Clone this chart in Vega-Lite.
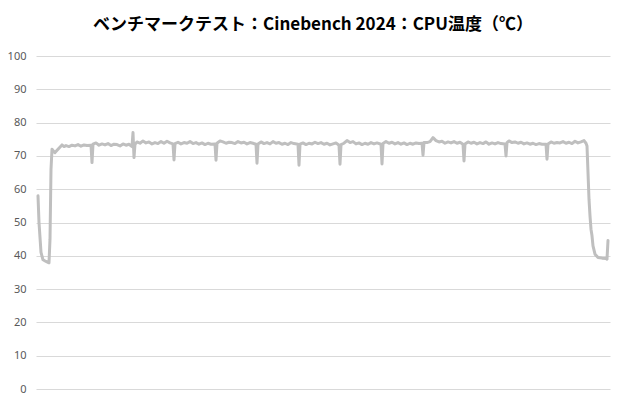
{
  "$schema": "https://vega.github.io/schema/vega-lite/v6.json",
  "autosize": "none",
  "width": 574,
  "height": 333,
  "padding": {"left": 36, "top": 56, "right": 10, "bottom": 11},
  "background": "white",
  "title": {
    "text": "ベンチマークテスト：Cinebench 2024：CPU温度（℃）",
    "font": "Noto Sans CJK JP",
    "fontSize": 17,
    "fontWeight": "bold",
    "color": "#000000",
    "anchor": "middle",
    "frame": "group",
    "offset": 16,
    "dx": -10
  },
  "config": {"view": {"stroke": null}},
  "data": {
    "values": [
      {"s": 2, "temp": 58}, {"s": 3, "temp": 50}, {"s": 5, "temp": 41}, {"s": 7, "temp": 38.8},
      {"s": 10, "temp": 38.3}, {"s": 13, "temp": 37.9}, {"s": 14, "temp": 45}, {"s": 15, "temp": 66},
      {"s": 16, "temp": 72}, {"s": 17, "temp": 71.6}, {"s": 19, "temp": 71.0}, {"s": 22, "temp": 72.0},
      {"s": 26, "temp": 73.3}, {"s": 28, "temp": 72.8}, {"s": 30, "temp": 73.1}, {"s": 33, "temp": 72.8},
      {"s": 36, "temp": 73.2}, {"s": 39, "temp": 73.0}, {"s": 42, "temp": 73.4}, {"s": 45, "temp": 72.9},
      {"s": 48, "temp": 73.3}, {"s": 51, "temp": 73.1}, {"s": 55, "temp": 73.2}, {"s": 56, "temp": 68},
      {"s": 57, "temp": 73.5}, {"s": 60, "temp": 73.9}, {"s": 63, "temp": 73.2}, {"s": 66, "temp": 73.6},
      {"s": 69, "temp": 73.3}, {"s": 72, "temp": 73.7}, {"s": 75, "temp": 73.1}, {"s": 78, "temp": 73.5},
      {"s": 81, "temp": 73.4}, {"s": 84, "temp": 73.0}, {"s": 87, "temp": 73.6}, {"s": 90, "temp": 73.2},
      {"s": 93, "temp": 73.5}, {"s": 96, "temp": 72.8}, {"s": 97, "temp": 77.0}, {"s": 98, "temp": 69.5},
      {"s": 99, "temp": 73.5}, {"s": 101, "temp": 74.2}, {"s": 104, "temp": 73.8}, {"s": 107, "temp": 74.5},
      {"s": 110, "temp": 73.9}, {"s": 113, "temp": 74.2}, {"s": 116, "temp": 73.6}, {"s": 119, "temp": 74.0},
      {"s": 122, "temp": 73.7}, {"s": 125, "temp": 74.3}, {"s": 128, "temp": 73.8}, {"s": 131, "temp": 74.4},
      {"s": 134, "temp": 73.9}, {"s": 137, "temp": 73.6}, {"s": 138, "temp": 68.8}, {"s": 139, "temp": 73.7},
      {"s": 142, "temp": 74.1}, {"s": 145, "temp": 73.6}, {"s": 148, "temp": 74.0}, {"s": 151, "temp": 73.8},
      {"s": 154, "temp": 74.3}, {"s": 157, "temp": 73.7}, {"s": 160, "temp": 74.0}, {"s": 163, "temp": 73.5},
      {"s": 166, "temp": 73.9}, {"s": 169, "temp": 73.4}, {"s": 172, "temp": 73.8}, {"s": 175, "temp": 73.5},
      {"s": 179, "temp": 73.6}, {"s": 180, "temp": 68.7}, {"s": 181, "temp": 73.8}, {"s": 184, "temp": 74.5},
      {"s": 187, "temp": 74.2}, {"s": 190, "temp": 73.8}, {"s": 193, "temp": 74.1}, {"s": 196, "temp": 74.0},
      {"s": 199, "temp": 73.7}, {"s": 202, "temp": 74.3}, {"s": 205, "temp": 73.9}, {"s": 208, "temp": 74.1},
      {"s": 211, "temp": 73.6}, {"s": 214, "temp": 74.0}, {"s": 217, "temp": 73.8}, {"s": 220, "temp": 73.5},
      {"s": 221, "temp": 67.8}, {"s": 222, "temp": 73.6}, {"s": 225, "temp": 74.2}, {"s": 228, "temp": 73.7},
      {"s": 231, "temp": 74.0}, {"s": 234, "temp": 73.6}, {"s": 237, "temp": 74.3}, {"s": 240, "temp": 73.8},
      {"s": 243, "temp": 74.0}, {"s": 246, "temp": 73.5}, {"s": 249, "temp": 73.8}, {"s": 252, "temp": 73.4},
      {"s": 255, "temp": 74.0}, {"s": 258, "temp": 73.7}, {"s": 262, "temp": 73.5}, {"s": 263, "temp": 67.2},
      {"s": 264, "temp": 73.5}, {"s": 267, "temp": 73.9}, {"s": 270, "temp": 73.4}, {"s": 273, "temp": 73.8},
      {"s": 276, "temp": 73.6}, {"s": 279, "temp": 74.1}, {"s": 282, "temp": 73.7}, {"s": 285, "temp": 74.0},
      {"s": 288, "temp": 73.5}, {"s": 291, "temp": 73.8}, {"s": 294, "temp": 73.3}, {"s": 297, "temp": 73.6},
      {"s": 300, "temp": 73.9}, {"s": 303, "temp": 73.2}, {"s": 304, "temp": 67.5}, {"s": 305, "temp": 73.4},
      {"s": 308, "temp": 73.8}, {"s": 311, "temp": 74.6}, {"s": 314, "temp": 74.0}, {"s": 317, "temp": 74.3},
      {"s": 320, "temp": 73.6}, {"s": 323, "temp": 73.9}, {"s": 326, "temp": 73.4}, {"s": 329, "temp": 73.8},
      {"s": 332, "temp": 73.5}, {"s": 335, "temp": 74.0}, {"s": 338, "temp": 73.6}, {"s": 341, "temp": 73.9},
      {"s": 345, "temp": 73.5}, {"s": 346, "temp": 67.6}, {"s": 347, "temp": 73.7}, {"s": 350, "temp": 74.3},
      {"s": 353, "temp": 73.8}, {"s": 356, "temp": 74.1}, {"s": 359, "temp": 73.6}, {"s": 362, "temp": 74.0},
      {"s": 365, "temp": 73.5}, {"s": 368, "temp": 73.9}, {"s": 371, "temp": 73.4}, {"s": 374, "temp": 73.8},
      {"s": 377, "temp": 73.5}, {"s": 380, "temp": 73.9}, {"s": 383, "temp": 73.7}, {"s": 386, "temp": 73.8},
      {"s": 387, "temp": 70.2}, {"s": 388, "temp": 74.0}, {"s": 391, "temp": 74.0}, {"s": 394, "temp": 74.3},
      {"s": 397, "temp": 75.5}, {"s": 400, "temp": 74.6}, {"s": 403, "temp": 74.2}, {"s": 406, "temp": 74.4},
      {"s": 409, "temp": 73.8}, {"s": 412, "temp": 74.2}, {"s": 415, "temp": 73.9}, {"s": 418, "temp": 74.3},
      {"s": 421, "temp": 73.8}, {"s": 424, "temp": 74.1}, {"s": 427, "temp": 73.5}, {"s": 428, "temp": 68.5},
      {"s": 429, "temp": 73.6}, {"s": 432, "temp": 74.2}, {"s": 435, "temp": 73.8}, {"s": 438, "temp": 74.1},
      {"s": 441, "temp": 73.6}, {"s": 444, "temp": 74.0}, {"s": 447, "temp": 73.7}, {"s": 450, "temp": 74.2},
      {"s": 453, "temp": 73.5}, {"s": 456, "temp": 73.9}, {"s": 459, "temp": 73.6}, {"s": 462, "temp": 74.0},
      {"s": 465, "temp": 73.7}, {"s": 469, "temp": 73.6}, {"s": 470, "temp": 70.0}, {"s": 471, "temp": 74.0},
      {"s": 473, "temp": 74.5}, {"s": 476, "temp": 74.0}, {"s": 479, "temp": 74.2}, {"s": 482, "temp": 73.8},
      {"s": 485, "temp": 74.1}, {"s": 488, "temp": 73.6}, {"s": 491, "temp": 73.9}, {"s": 494, "temp": 73.5},
      {"s": 497, "temp": 73.8}, {"s": 500, "temp": 73.4}, {"s": 503, "temp": 73.7}, {"s": 506, "temp": 73.5},
      {"s": 510, "temp": 73.5}, {"s": 511, "temp": 69.0}, {"s": 512, "temp": 73.6}, {"s": 515, "temp": 74.2},
      {"s": 518, "temp": 73.8}, {"s": 521, "temp": 74.0}, {"s": 524, "temp": 73.9}, {"s": 527, "temp": 74.3},
      {"s": 530, "temp": 73.8}, {"s": 533, "temp": 74.1}, {"s": 536, "temp": 73.7}, {"s": 539, "temp": 74.4},
      {"s": 542, "temp": 73.9}, {"s": 545, "temp": 74.2}, {"s": 548, "temp": 74.6}, {"s": 550, "temp": 73.8},
      {"s": 551, "temp": 73.0}, {"s": 552, "temp": 65}, {"s": 553, "temp": 57}, {"s": 554, "temp": 52},
      {"s": 555, "temp": 48}, {"s": 556, "temp": 46}, {"s": 557, "temp": 43}, {"s": 559, "temp": 40.5},
      {"s": 562, "temp": 39.5}, {"s": 566, "temp": 39.3}, {"s": 570, "temp": 39.2}, {"s": 571, "temp": 39.0},
      {"s": 572, "temp": 44.6}
    ]
  },
  "mark": {"type": "line", "color": "#bfbfbf", "strokeWidth": 3, "strokeJoin": "round", "strokeCap": "round"},
  "encoding": {
    "x": {
      "field": "s",
      "type": "quantitative",
      "scale": {"domain": [0, 574], "nice": false},
      "axis": null
    },
    "y": {
      "field": "temp",
      "type": "quantitative",
      "scale": {"domain": [0, 100], "nice": false},
      "axis": {
        "title": null,
        "values": [0, 10, 20, 30, 40, 50, 60, 70, 80, 90, 100],
        "domain": false,
        "ticks": false,
        "grid": true,
        "gridColor": "#d9d9d9",
        "gridWidth": 1,
        "labelColor": "#595959",
        "labelFont": "Noto Sans",
        "labelFontSize": 11,
        "labelPadding": 10
      }
    }
  }
}
